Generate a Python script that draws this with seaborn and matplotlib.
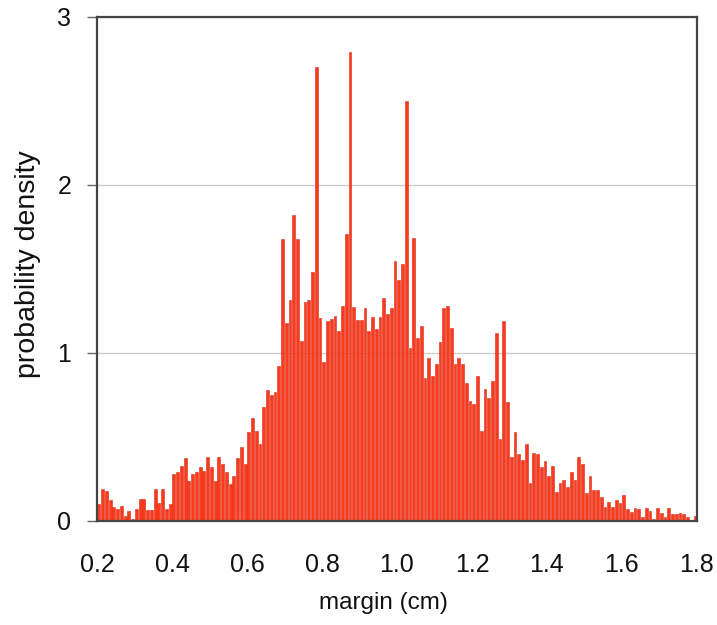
import numpy as np
import pandas as pd
import matplotlib
matplotlib.use("Agg")
import matplotlib.pyplot as plt
import seaborn as sns

bin_start = 0.2
bin_end = 1.8
density = [
    0.10, 0.19, 0.18, 0.125, 0.085, 0.073, 0.09, 0.03, 0.06, 0.01,
    0.073, 0.13, 0.13, 0.065, 0.065, 0.19, 0.11, 0.19, 0.073, 0.10,
    0.28, 0.29, 0.33, 0.375, 0.24, 0.28, 0.29, 0.32, 0.30, 0.38,
    0.32, 0.24, 0.38, 0.34, 0.29, 0.22, 0.27, 0.375, 0.44, 0.34,
    0.53, 0.615, 0.535, 0.46, 0.68, 0.78, 0.75, 0.77, 0.92, 1.68,
    1.18, 1.315, 1.82, 1.68, 1.07, 1.305, 1.315, 1.48, 2.70, 1.21,
    0.945, 1.19, 1.20, 1.22, 1.13, 1.28, 1.71, 2.79, 1.276, 1.196,
    1.196, 1.266, 1.133, 1.216, 1.14, 1.214, 1.325, 1.23, 1.266, 1.55,
    1.435, 1.53, 2.50, 1.03, 1.683, 1.09, 1.16, 0.85, 0.972, 0.862,
    0.936, 1.067, 1.266, 1.28, 1.15, 0.936, 0.973, 0.936, 0.823, 0.716,
    0.696, 0.863, 0.538, 0.784, 0.73, 0.835, 1.12, 0.49, 1.19, 0.708,
    0.38, 0.527, 0.40, 0.365, 0.457, 0.226, 0.405, 0.40, 0.323, 0.357,
    0.27, 0.33, 0.175, 0.228, 0.244, 0.20, 0.293, 0.244, 0.381, 0.337,
    0.168, 0.268, 0.185, 0.185, 0.141, 0.081, 0.116, 0.081, 0.125, 0.109,
    0.152, 0.072, 0.056, 0.079, 0.071, 0.023, 0.08, 0.059, 0.014, 0.08,
    0.05, 0.021, 0.08, 0.041, 0.041, 0.05, 0.04, 0.023, 0.008, 0.032,
]
x_ticks = [0.2, 0.4, 0.6, 0.8, 1.0, 1.2, 1.4, 1.6, 1.8]
x_tick_labels = ["0.2", "0.4", "0.6", "0.8", "1.0", "1.2", "1.4", "1.6", "1.8"]
y_ticks = [0, 1, 2, 3]
y_tick_labels = ["0", "1", "2", "3"]

n = len(density)
df = pd.DataFrame({
    "margin": np.linspace(bin_start, bin_end, n + 1)[:-1] + (bin_end - bin_start) / n / 2,
    "density": density,
})

sns.set_theme(style="white")
plt.rcParams["font.family"] = ["Liberation Sans", "DejaVu Sans"]

fig = plt.figure(figsize=(7.17, 6.25), dpi=100)
ax = fig.add_axes([0.1353, 0.1664, 0.8367, 0.8064])

sns.histplot(data=df, x="margin", weights="density", bins=n,
             binrange=(bin_start, bin_end), shrink=0.74,
             color="#ff3a1c", edgecolor="#d62e18", linewidth=0.4,
             alpha=1.0, ax=ax)

ax.set_xlim(bin_start, bin_end)
ax.set_ylim(0, 3)
ax.set_xticks(x_ticks)
ax.set_xticklabels(x_tick_labels)
ax.set_yticks(y_ticks)
ax.set_yticklabels(y_tick_labels)
ax.tick_params(axis="x", labelsize=18, length=0, pad=23, colors="#111111")
ax.tick_params(axis="y", labelsize=18, length=7.5, width=1.0, pad=11,
               direction="out", left=True, color="#666666", labelcolor="#111111")
ax.yaxis.grid(True, color="#c8c8c8", linewidth=0.9)
ax.set_axisbelow(True)
ax.xaxis.grid(False)
for s in ax.spines.values():
    s.set_visible(True)
    s.set_color("#444444")
    s.set_linewidth(1.6)

ax.set_xlabel("margin (cm)", fontsize=17.5, color="#111111")
ax.xaxis.set_label_coords(0.477, -0.14)
ax.set_ylabel("probability density", fontsize=20.5, color="#111111")
ax.yaxis.set_label_coords(-0.093, 0.51)

fig.savefig("out.png", dpi=100)
